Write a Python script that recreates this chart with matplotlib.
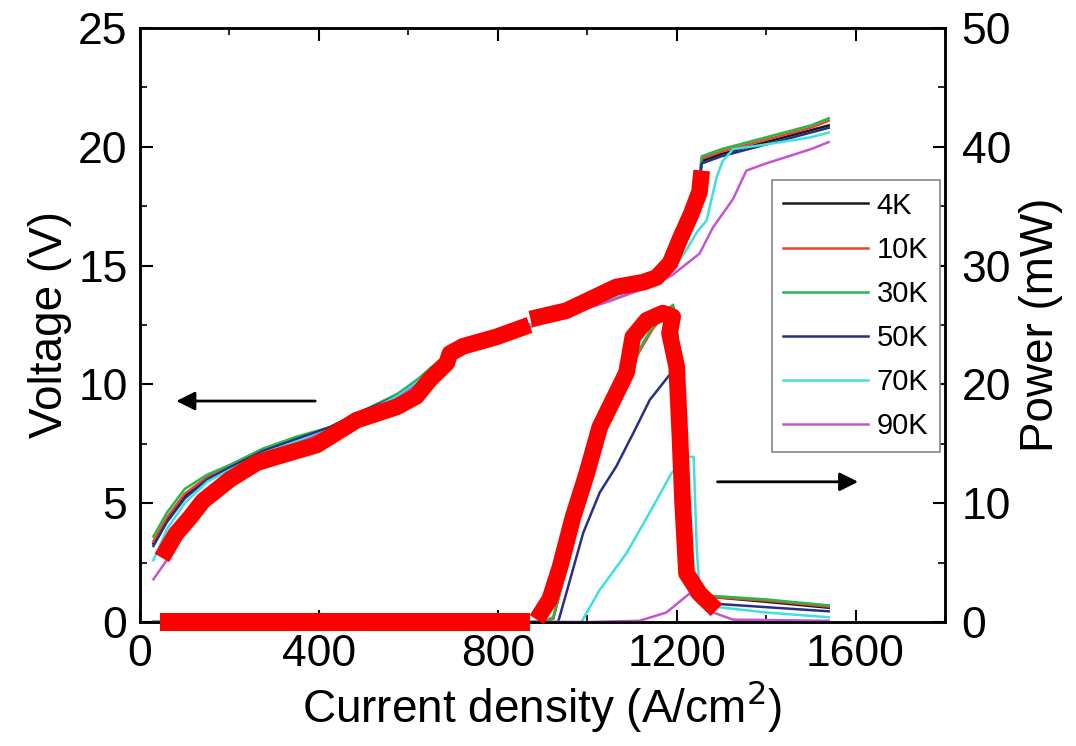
import matplotlib
matplotlib.use("Agg")
import matplotlib.pyplot as plt
from matplotlib.ticker import MultipleLocator

plt.rcParams['font.family'] = ['Liberation Sans', 'DejaVu Sans']

# ---------------- datos ----------------
LABELS = ["4K", "10K", "30K", "50K", "70K", "90K"]
COLORES = ["#1a1a1a", "#e8482a", "#2bb54a", "#272f86", "#3fe0e0", "#c455d0"]

# voltaje (eje izquierdo)
j_v = [30, 60, 100, 150, 200, 275, 350, 425, 500, 575, 620, 650, 690, 720, 800, 870,
       950, 1050, 1150, 1190, 1220, 1245, 1252, 1256, 1300, 1400, 1500, 1540]
v_4k = [3.3, 4.3, 5.3, 6.0, 6.5, 7.2, 7.7, 8.2, 8.9, 9.5, 10.1, 10.6, 11.3, 11.6, 12.0, 12.5,
        13.0, 13.6, 14.3, 15.0, 16.6, 18.1, 18.7, 19.4, 19.7, 20.2, 20.7, 20.9]
v_10k = [3.4, 4.4, 5.4, 6.1, 6.6, 7.2, 7.7, 8.2, 8.9, 9.5, 10.2, 10.6, 11.3, 11.6, 12.0, 12.5,
         13.0, 13.6, 14.3, 15.0, 16.7, 18.2, 18.8, 19.5, 19.8, 20.3, 20.8, 21.1]
v_30k = [3.6, 4.6, 5.6, 6.2, 6.6, 7.3, 7.8, 8.2, 8.9, 9.6, 10.2, 10.7, 11.3, 11.6, 12.0, 12.5,
         13.0, 13.6, 14.3, 15.0, 16.7, 18.2, 18.9, 19.6, 19.9, 20.4, 20.9, 21.2]
v_50k = [3.2, 4.2, 5.2, 6.0, 6.5, 7.2, 7.7, 8.2, 8.9, 9.5, 10.1, 10.6, 11.3, 11.6, 12.0, 12.5,
         13.0, 13.6, 14.3, 14.9, 16.5, 18.0, 18.6, 19.3, 19.6, 20.1, 20.6, 20.8]
j_v70 = [30, 60, 100, 150, 200, 275, 350, 425, 500, 575, 620, 650, 690, 720, 800, 870,
         950, 1050, 1150, 1190, 1220, 1245, 1267, 1289, 1303, 1326, 1400, 1500, 1540]
v_70k = [2.6, 3.9, 5.0, 5.9, 6.4, 7.1, 7.6, 8.1, 8.8, 9.5, 10.1, 10.6, 11.3, 11.6, 12.0, 12.5,
         13.0, 13.6, 14.3, 14.8, 15.6, 16.4, 16.9, 18.7, 19.4, 19.9, 20.1, 20.4, 20.6]
j_v90 = [30, 60, 100, 150, 200, 275, 350, 425, 500, 575, 620, 650, 690, 720, 800, 870,
         950, 1050, 1150, 1190, 1251, 1281, 1326, 1356, 1400, 1500, 1540]
v_90k = [1.8, 2.6, 3.9, 5.1, 5.9, 6.8, 7.5, 8.1, 8.8, 9.4, 10.0, 10.5, 11.1, 11.5, 11.9, 12.4,
         12.9, 13.5, 14.2, 14.6, 15.5, 16.6, 17.8, 19.0, 19.3, 19.9, 20.2]

# potencia (eje derecho)
j_p4 = [30, 900, 924, 953, 991, 1028, 1058, 1088, 1117, 1147, 1177, 1192, 1202, 1215, 1235,
        1252, 1280, 1400, 1540]
p_4k = [0, 0, 0.3, 4.6, 10.3, 15.9, 18.3, 20.6, 22.9, 24.8, 26.2, 26.6, 24.0, 12.0, 4.0,
        2.4, 2.1, 1.7, 1.2]
p_10k = [0, 0, 0.3, 4.5, 10.2, 15.8, 18.2, 20.5, 22.8, 24.7, 26.1, 26.5, 23.8, 11.8, 3.9,
         2.4, 2.1, 1.8, 1.3]
p_30k = [0, 0, 0.4, 4.7, 10.4, 16.0, 18.4, 20.7, 23.0, 24.9, 26.3, 26.7, 24.1, 12.1, 4.1,
         2.5, 2.2, 1.9, 1.4]
j_p50 = [30, 935, 953, 991, 1028, 1065, 1103, 1140, 1184, 1196, 1210, 1230, 1250, 1300, 1540]
p_50k = [0, 0, 2.4, 7.5, 10.9, 13.1, 15.9, 18.7, 20.8, 20.0, 12.0, 4.0, 2.0, 1.5, 0.9]
j_p70 = [30, 987, 1028, 1088, 1147, 1188, 1222, 1238, 1245, 1251, 1281, 1400, 1540]
p_70k = [0, 0, 2.7, 5.8, 9.7, 12.5, 13.9, 13.9, 6.1, 2.9, 1.3, 0.8, 0.4]
j_p90 = [30, 1000, 1117, 1177, 1229, 1250, 1267, 1326, 1540]
p_90k = [0, 0, 0.1, 0.8, 2.4, 1.6, 1.0, 0.2, 0.1]

# trazo rojo a mano
rojo_j1 = [49, 80, 112, 141, 201, 261, 313, 395, 425, 485, 574, 618, 648, 686, 693, 722, 797, 871]
rojo_v1 = [2.7, 3.7, 4.4, 5.1, 6.0, 6.7, 7.0, 7.45, 7.8, 8.5, 9.05, 9.5, 10.2, 10.9, 11.3, 11.6, 12.0, 12.5]
rojo_j2 = [873, 953, 1065, 1125, 1155, 1185, 1207, 1233, 1251, 1256]
rojo_v2 = [12.75, 13.1, 14.1, 14.3, 14.5, 15.1, 16.1, 17.2, 18.1, 19.0]
rojo_j3 = [45, 872]
rojo_p3 = [0, 0]
rojo_j4 = [887, 916, 939, 968, 999, 1028, 1058, 1088, 1102, 1133, 1169, 1191, 1184, 1200,
           1207, 1213, 1222, 1251, 1289]
rojo_p4 = [0.2, 1.9, 4.6, 8.8, 12.5, 16.4, 18.7, 21.0, 24.0, 25.4, 26.0, 25.7, 24.3, 21.5,
           15.9, 10.3, 4.1, 2.4, 1.0]

voltajes = [(j_v, v_4k), (j_v, v_10k), (j_v, v_30k), (j_v, v_50k), (j_v70, v_70k), (j_v90, v_90k)]
potencias = [(j_p4, p_4k), (j_p4, p_10k), (j_p4, p_30k), (j_p50, p_50k), (j_p70, p_70k), (j_p90, p_90k)]

# ---------------- figura ----------------
fig = plt.figure(figsize=(10.76, 7.46), dpi=100)
ax = fig.add_axes([140 / 1076, 1 - 622 / 746, 805 / 1076, 594 / 746])
ax2 = ax.twinx()

for (j, v), c in zip(voltajes, COLORES):
    ax.plot(j, v, color=c, lw=1.8)
for (j, p), c, lab in zip(potencias, COLORES, LABELS):
    ax2.plot(j, p, color=c, lw=1.8, label=lab)

ax.plot(rojo_j1, rojo_v1, color="#ff0000", lw=12, solid_capstyle="butt", solid_joinstyle="round", zorder=5)
ax.plot(rojo_j2, rojo_v2, color="#ff0000", lw=12, solid_capstyle="butt", solid_joinstyle="round", zorder=5)
ax2.plot(rojo_j3, rojo_p3, color="#ff0000", lw=13, solid_capstyle="butt", clip_on=False, zorder=5)
ax2.plot(rojo_j4, rojo_p4, color="#ff0000", lw=12, solid_capstyle="butt", solid_joinstyle="round",
         clip_on=False, zorder=5)

# flechas
ax.annotate("", xy=(75, 9.3), xytext=(398, 9.3),
            arrowprops=dict(arrowstyle="-|>", color="black", lw=2, mutation_scale=28))
ax.annotate("", xy=(1612, 5.9), xytext=(1285, 5.9),
            arrowprops=dict(arrowstyle="-|>", color="black", lw=2, mutation_scale=28))

ax.set_xlim(0, 1800)
ax.set_ylim(0, 25)
ax2.set_ylim(0, 50)

ax.xaxis.set_major_locator(MultipleLocator(400))
ax.xaxis.set_minor_locator(MultipleLocator(200))
ax.yaxis.set_major_locator(MultipleLocator(5))
ax.yaxis.set_minor_locator(MultipleLocator(2.5))
ax2.yaxis.set_major_locator(MultipleLocator(10))
ax2.yaxis.set_minor_locator(MultipleLocator(5))

ax.tick_params(axis="x", which="both", direction="in", top=True, labelsize=32, pad=9)
ax.tick_params(axis="y", which="both", direction="in", labelsize=32, pad=9)
ax2.tick_params(axis="y", which="both", direction="in", labelsize=32, pad=12)
for a in (ax, ax2):
    a.tick_params(which="major", length=9, width=1.5)
    a.tick_params(which="minor", length=5, width=1.2)
    for s in a.spines.values():
        s.set_linewidth(1.8)

ax.set_xlabel("Current density (A/cm$^2$)", fontsize=33, labelpad=2)
ax.set_ylabel("Voltage (V)", fontsize=33, labelpad=4)
ax2.set_ylabel("Power (mW)", fontsize=33, labelpad=6)

leg = ax2.legend(loc="upper right", bbox_to_anchor=(940 / 1076, 1 - 180 / 746),
                 bbox_transform=fig.transFigure, borderaxespad=0, fontsize=21,
                 handlelength=2.9, labelspacing=0.55, handletextpad=0.3, borderpad=0.4,
                 fancybox=False, framealpha=1, edgecolor="#888888")
leg.get_frame().set_linewidth(1.2)

fig.savefig("out.png", dpi=100)
